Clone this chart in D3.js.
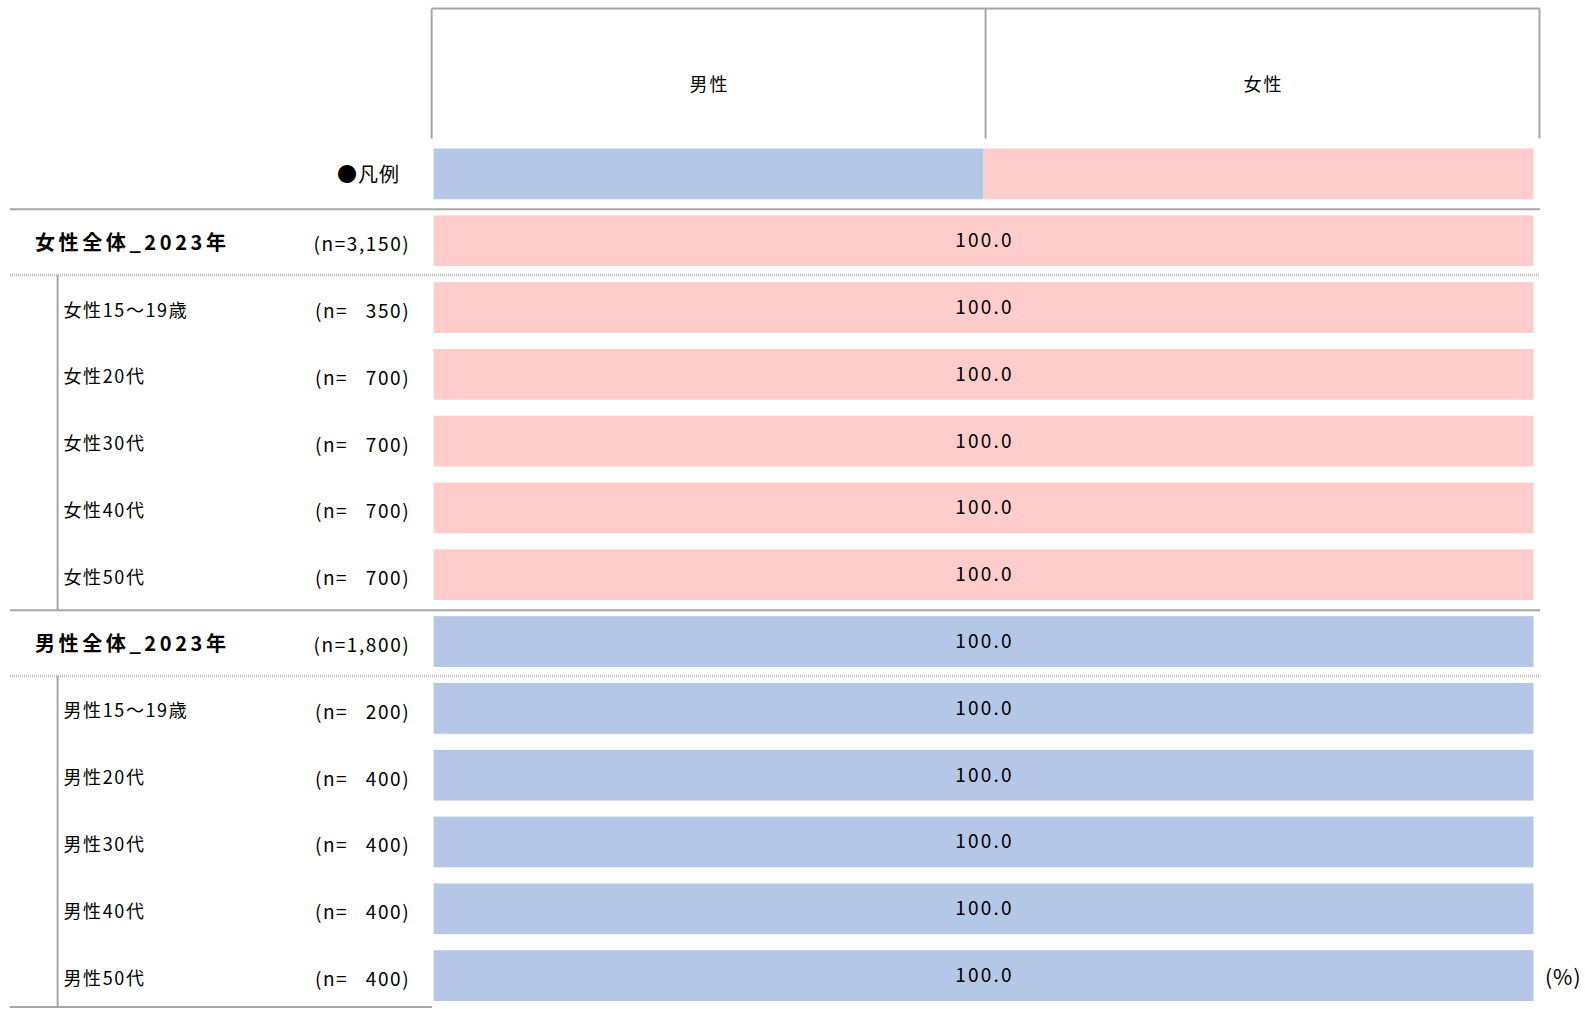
<!DOCTYPE html>
<html>
<head>
<meta charset="utf-8">
<script src="https://cdn.jsdelivr.net/npm/d3@7"></script>
<style>
    body { margin: 0; background: #fff; }
    svg text { font-family: "Noto Sans CJK JP", "Noto Sans", sans-serif; fill: #000; white-space: pre; }
</style>
</head>
<body>
<div id="chart"></div>
<script>
// Series (legend order)
const series = ['男性', '女性'];
const seriesColors = ['#B4C7E7', '#FFCCCC'];

// Rows
const rowLabels = [
    '女性全体_2023年', '女性15～19歳', '女性20代', '女性30代', '女性40代', '女性50代',
    '男性全体_2023年', '男性15～19歳', '男性20代', '男性30代', '男性40代', '男性50代'
];
const nLabels = [
    '(n=3,150)', '(n=   350)', '(n=   700)', '(n=   700)', '(n=   700)', '(n=   700)',
    '(n=1,800)', '(n=   200)', '(n=   400)', '(n=   400)', '(n=   400)', '(n=   400)'
];
const isGroup = [true, false, false, false, false, false, true, false, false, false, false, false];

// Values (%)
const maleValues = [0, 0, 0, 0, 0, 0, 100, 100, 100, 100, 100, 100];
const femaleValues = [100, 100, 100, 100, 100, 100, 0, 0, 0, 0, 0, 0];

// Legend bar shares
const legendValues = [50, 50];

document.addEventListener('DOMContentLoaded', () => {
    drawChart();
});

function drawChart() {
    const width = 1585;
    const height = 1009;
    const lineColor = '#a6a6a6';

    const svg = d3.select('#chart')
        .append('svg')
        .attr('width', width)
        .attr('height', height);

    const rowKeys = ['legend', ...rowLabels];

    const y = d3.scaleBand()
        .domain(rowKeys)
        .range([140.5, 1009])
        .paddingInner(0.24)
        .paddingOuter(0.12);

    const x = d3.scaleLinear()
        .domain([0, 100])
        .range([433.6, 1533.5]);

    const header = d3.scaleBand()
        .domain(series)
        .range([431.6, 1539.5]);

    // Header box
    const headerTop = 8.5;
    const headerBottom = 138.5;
    svg.append('line')
        .attr('x1', header.range()[0]).attr('x2', header.range()[1])
        .attr('y1', headerTop).attr('y2', headerTop)
        .attr('stroke', lineColor).attr('stroke-width', 2);

    const edges = series.map(s => header(s)).concat([header.range()[1]]);
    svg.selectAll('.header-edge')
        .data(edges)
        .enter()
        .append('line')
        .attr('class', 'header-edge')
        .attr('x1', d => d).attr('x2', d => d)
        .attr('y1', headerTop).attr('y2', headerBottom)
        .attr('stroke', lineColor).attr('stroke-width', 2);

    svg.selectAll('.header-label')
        .data(series)
        .enter()
        .append('text')
        .attr('class', 'header-label')
        .attr('x', d => header(d) + header.bandwidth() / 2 + 1)
        .attr('y', 83)
        .attr('text-anchor', 'middle')
        .attr('dominant-baseline', 'central')
        .style('font-size', '18px')
        .style('letter-spacing', '2px')
        .text(d => d);

    // Legend bar
    let acc = 0;
    const legendSegs = legendValues.map((v, i) => {
        const seg = { start: acc, end: acc + v, color: seriesColors[i] };
        acc += v;
        return seg;
    });
    svg.selectAll('.legend-seg')
        .data(legendSegs)
        .enter()
        .append('rect')
        .attr('class', 'legend-seg')
        .attr('x', d => x(d.start))
        .attr('y', y('legend'))
        .attr('width', d => x(d.end) - x(d.start))
        .attr('height', y.bandwidth())
        .attr('fill', d => d.color);

    svg.append('text')
        .attr('x', 400)
        .attr('y', y('legend') + y.bandwidth() / 2)
        .attr('text-anchor', 'end')
        .attr('dominant-baseline', 'central')
        .style('font-size', '20px')
        .style('letter-spacing', '1px')
        .text('●凡例');

    // Row bars
    const rows = rowLabels.map((label, i) => ({
        label,
        n: nLabels[i],
        group: isGroup[i],
        segs: [
            { start: 0, end: maleValues[i], color: seriesColors[0], value: maleValues[i] },
            { start: maleValues[i], end: maleValues[i] + femaleValues[i], color: seriesColors[1], value: femaleValues[i] }
        ]
    }));

    const rowG = svg.selectAll('.row')
        .data(rows)
        .enter()
        .append('g')
        .attr('class', 'row')
        .attr('transform', d => `translate(0, ${y(d.label)})`);

    rowG.selectAll('rect')
        .data(d => d.segs.filter(s => s.value > 0))
        .enter()
        .append('rect')
        .attr('x', d => x(d.start))
        .attr('y', 0)
        .attr('width', d => x(d.end) - x(d.start))
        .attr('height', y.bandwidth())
        .attr('fill', d => d.color);

    rowG.selectAll('.value-label')
        .data(d => d.segs.filter(s => s.value > 0))
        .enter()
        .append('text')
        .attr('class', 'value-label')
        .attr('x', d => (x(d.start) + x(d.end)) / 2 + 1)
        .attr('y', y.bandwidth() / 2 - 2)
        .attr('text-anchor', 'middle')
        .attr('dominant-baseline', 'central')
        .style('font-size', '19px')
        .style('letter-spacing', '2.2px')
        .text(d => d.value.toFixed(1));

    rowG.append('text')
        .attr('x', d => d.group ? 35 : 63.5)
        .attr('y', y.bandwidth() / 2 + 1)
        .attr('dominant-baseline', 'central')
        .style('font-size', d => d.group ? '20px' : '18px')
        .style('font-weight', d => d.group ? 'bold' : 'normal')
        .style('letter-spacing', d => d.group ? '3.6px' : '1.6px')
        .text(d => d.label);

    rowG.append('text')
        .attr('x', 410.3)
        .attr('y', y.bandwidth() / 2 + 2)
        .attr('text-anchor', 'end')
        .attr('dominant-baseline', 'central')
        .style('font-size', '19px')
        .style('letter-spacing', '1.6px')
        .text(d => d.n);

    // Separators
    const gap = y.step() - y.bandwidth();
    const above = key => y(key) - gap / 2 + 2;
    const groupKeys = rowLabels.filter((d, i) => isGroup[i]);

    groupKeys.forEach(key => {
        const idx = rowLabels.indexOf(key);
        svg.append('line')
            .attr('x1', 10).attr('x2', 1540)
            .attr('y1', above(key)).attr('y2', above(key))
            .attr('stroke', lineColor).attr('stroke-width', 2);

        const firstChild = rowLabels[idx + 1];
        const yDot = above(firstChild) - 1;
        svg.append('line')
            .attr('x1', 10).attr('x2', 1540)
            .attr('y1', yDot).attr('y2', yDot)
            .attr('stroke', '#bfbfbf').attr('stroke-width', 3)
            .attr('stroke-dasharray', '1,1');

        // Tree line for children
        let end = idx + 1;
        while (end < rowLabels.length && !isGroup[end]) end++;
        const yEnd = end < rowLabels.length ? above(rowLabels[end]) : y(rowLabels[end - 1]) + y.bandwidth() + 6;
        svg.append('line')
            .attr('x1', 57.6).attr('x2', 57.6)
            .attr('y1', yDot).attr('y2', yEnd)
            .attr('stroke', lineColor).attr('stroke-width', 2);
    });

    // Bottom line
    const last = rowLabels[rowLabels.length - 1];
    const yBottom = y(last) + y.bandwidth() + 6;
    svg.append('line')
        .attr('x1', 10).attr('x2', 432)
        .attr('y1', yBottom).attr('y2', yBottom)
        .attr('stroke', lineColor).attr('stroke-width', 2);

    // Unit
    svg.append('text')
        .attr('x', 1545)
        .attr('y', y(last) + y.bandwidth() / 2)
        .attr('dominant-baseline', 'central')
        .style('font-size', '21px')
        .style('letter-spacing', '1px')
        .text('(%)');
}
</script>
</body>
</html>
